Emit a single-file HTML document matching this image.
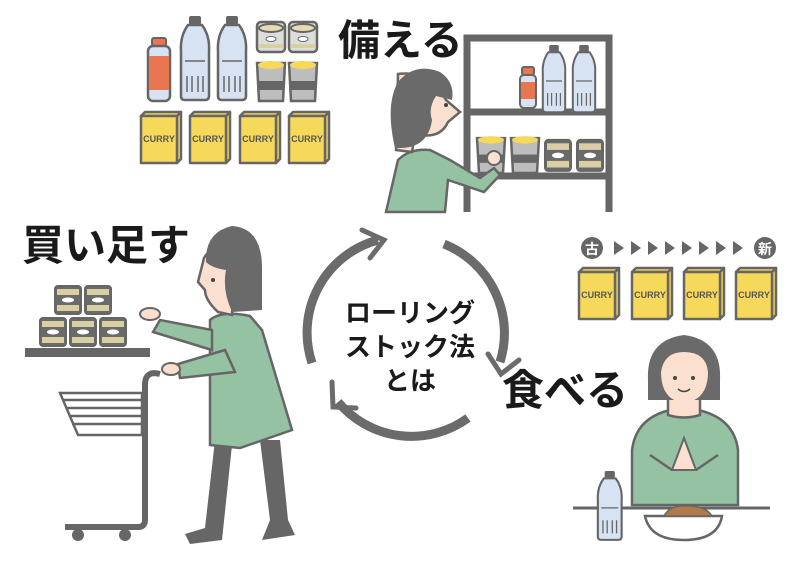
<!DOCTYPE html>
<html><head><meta charset="utf-8"><style>
html,body{margin:0;padding:0;background:#fff;width:798px;height:566px;overflow:hidden}
svg{display:block}
.t{font-family:"Liberation Sans","Noto Sans CJK JP",sans-serif;font-weight:bold;fill:#1a1a1a}
.c{font-family:"Liberation Sans",sans-serif;font-weight:bold;font-size:9px;fill:#555}
</style></head><body>
<svg width="798" height="566" viewBox="0 0 798 566">
<defs>
<g id="box" stroke-linejoin="round"><path d="M36 4 L40 0 L40 47 L36 51Z" fill="#f6d95a" stroke="#666" stroke-width="2.5"/><path d="M0 4 L4 0 L40 0 L36 4Z" fill="#f6d95a" stroke="#666" stroke-width="2.5"/><rect x="0" y="4" width="36" height="47" fill="#f6d95a" stroke="#666" stroke-width="2.5"/><text x="18" y="30" text-anchor="middle" class="c">CURRY</text></g>
<g id="bottle"><rect x="9" y="0" width="12" height="9" rx="2" fill="#666"/><path d="M8 9 Q0 20 1 35 L1 80 Q1 84 5 84 L25 84 Q29 84 29 80 L29 35 Q30 20 22 9Z" fill="#d7e2f2" stroke="#666" stroke-width="2.5"/><path d="M5 45 H25 M7 60 V76 M12 60 V76 M18 60 V76 M23 60 V76" stroke="#666" stroke-width="1.5" fill="none"/></g>
<g id="can"><rect x="0" y="0" width="26" height="28" rx="3" fill="#6a6a6a" stroke="#666" stroke-width="2"/><rect x="2" y="3" width="22" height="6" fill="#d9cfa3"/><rect x="2" y="19" width="22" height="6" fill="#d9cfa3"/><ellipse cx="13" cy="14" rx="6" ry="2.5" fill="#fff"/></g>
<g id="cup"><path d="M0 0 H28 L26 38 H2Z" fill="#bdbdbd" stroke="#666" stroke-width="2.5"/><ellipse cx="14" cy="2" rx="13" ry="4" fill="#f6d95a"/><rect x="1" y="18" width="26" height="9" fill="#666"/></g>
</defs>

<!-- cycle -->
<g fill="none" stroke="#6b6b6b" stroke-width="9">
<path d="M312 363 A96 96 0 0 1 378 240"/>
<path d="M444 244 A96 96 0 0 1 500 362"/>
<path d="M468 418 A96 96 0 0 1 338 402"/>
</g>
<g fill="none" stroke="#6b6b6b" stroke-width="5" stroke-linecap="round">
<path d="M362 230 L384 240 L370 258"/>
<path d="M488 354 L501 374 L519 360"/>
<path d="M332 382 L333 407 L356 408"/>
</g>
<text x="410" y="322" text-anchor="middle" class="t" font-size="26">ローリング</text>
<text x="410" y="356" text-anchor="middle" class="t" font-size="26">ストック法</text>
<text x="410" y="390" text-anchor="middle" class="t" font-size="26">とは</text>

<text x="338" y="55" class="t" font-size="42">備える</text>
<text x="22" y="260" class="t" font-size="42">買い足す</text>
<text x="502" y="405" class="t" font-size="42">食べる</text>

<!-- top-left items -->
<rect x="152" y="38" width="14" height="8" rx="2" fill="#e8764f" stroke="#666" stroke-width="2"/>
<rect x="148" y="46" width="22" height="55" rx="5" fill="#d7e2f2" stroke="#666" stroke-width="2.5"/>
<rect x="149" y="56" width="20" height="34" fill="#e8764f"/>
<use href="#bottle" x="180" y="16"/>
<use href="#bottle" x="217" y="16"/>
<g transform="translate(257,22)"><rect width="28" height="30" rx="4" fill="#ddd" stroke="#666" stroke-width="2.5"/><ellipse cx="14" cy="6" rx="12" ry="4" fill="#e6dcae" stroke="#666" stroke-width="2"/><rect x="2" y="22" width="24" height="4" fill="#d9cfa3"/><ellipse cx="14" cy="17" rx="5" ry="2.5" fill="#fff" stroke="#666"/></g>
<g transform="translate(289,22)"><rect width="28" height="30" rx="4" fill="#ddd" stroke="#666" stroke-width="2.5"/><ellipse cx="14" cy="6" rx="12" ry="4" fill="#e6dcae" stroke="#666" stroke-width="2"/><rect x="2" y="22" width="24" height="4" fill="#d9cfa3"/><ellipse cx="14" cy="17" rx="5" ry="2.5" fill="#fff" stroke="#666"/></g>
<use href="#cup" x="257" y="63"/>
<use href="#cup" x="289" y="63"/>
<use href="#box" x="141" y="112"/>
<use href="#box" x="190" y="112"/>
<use href="#box" x="240" y="112"/>
<use href="#box" x="289" y="112"/>

<!-- shelf top right -->
<g fill="none" stroke="#666" stroke-width="7">
<path d="M467 212 V38 H609 V212"/>
<path d="M467 112 H609 M467 176 H609"/>
</g>
<rect x="522" y="67" width="12" height="8" rx="2" fill="#e8764f" stroke="#666" stroke-width="2"/>
<rect x="520" y="75" width="16" height="33" rx="4" fill="#d7e2f2" stroke="#666" stroke-width="2"/>
<rect x="521" y="82" width="14" height="17" fill="#e8764f"/>
<use href="#bottle" x="542" y="45" transform="translate(542,45) scale(0.8) translate(-542,-45)"/>
<use href="#bottle" x="572" y="45" transform="translate(572,45) scale(0.8) translate(-572,-45)"/>
<use href="#cup" x="477" y="138" transform="translate(477,138) scale(1,0.92) translate(-477,-138)"/>
<use href="#cup" x="511" y="138" transform="translate(511,138) scale(1,0.92) translate(-511,-138)"/>
<use href="#can" x="545" y="140" transform="translate(545,140) scale(1,1.1) translate(-545,-140)"/>
<use href="#can" x="577" y="140" transform="translate(577,140) scale(1,1.1) translate(-577,-140)"/>
<!-- top woman -->
<path d="M386 212 L398 160 Q410 148 430 150 L450 160 L480 178 L494 168 L500 175 L484 192 L448 180 L445 212Z" fill="#94c2a2" stroke="#666" stroke-width="2.5"/>
<path d="M398 74 Q430 70 446 100 L460 112 L448 122 Q440 140 415 134 L412 152 L396 150Z" fill="#fbe0cf" stroke="#666" stroke-width="2.5"/>
<path d="M395 148 Q385 105 398 82 Q415 62 440 72 Q455 82 452 100 L436 96 Q428 108 432 120 Q428 150 395 148Z" fill="#6a6a6a"/>
<circle cx="446" cy="105" r="2" fill="#444"/>
<circle cx="494" cy="158" r="7" fill="#fbe0cf" stroke="#666" stroke-width="2"/>

<!-- left scene -->
<rect x="25" y="348" width="125" height="9" fill="#666"/>
<use href="#can" x="55" y="286"/><use href="#can" x="85" y="286"/>
<use href="#can" x="40" y="318"/><use href="#can" x="70" y="318"/><use href="#can" x="100" y="318"/>
<!-- cart -->
<g fill="none" stroke="#666" stroke-width="6" stroke-linejoin="round">
<path d="M160 374 Q145 370 145 385 V520 Q145 527 138 527 H65"/>
</g>
<g fill="none" stroke="#666" stroke-width="2.5">
<path d="M60 393 H142 V435 H78 Z"/>
<path d="M63 400 H142 M66 408 H142 M69 416 H142 M72 424 H142"/>
</g>
<circle cx="78" cy="535" r="6" fill="#666"/><circle cx="125" cy="535" r="6" fill="#666"/>
<!-- woman left -->
<path d="M215 440 L205 528 L185 534 L190 544 L222 540 L232 445Z" fill="#666"/>
<path d="M260 440 L270 520 L262 540 L295 535 L288 520 L280 440Z" fill="#666"/>
<path d="M210 320 Q222 310 250 316 L262 330 L292 430 L240 448 L210 445 Z" fill="#94c2a2" stroke="#666" stroke-width="2.5"/>
<path d="M212 330 L160 320 L153 332 L212 350 Z" fill="#94c2a2" stroke="#666" stroke-width="2.5"/>
<path d="M225 350 L178 364 L180 378 L235 372 Z" fill="#94c2a2" stroke="#666" stroke-width="2.5"/>
<ellipse cx="150" cy="314" rx="10" ry="6" fill="#fbe0cf" stroke="#666" stroke-width="2"/>
<ellipse cx="171" cy="369" rx="9" ry="6" fill="#fbe0cf" stroke="#666" stroke-width="2"/>
<path d="M204 258 Q215 240 235 248 L232 315 L218 312 Q205 300 205 290 L198 282Z" fill="#fbe0cf" stroke="#666" stroke-width="2.5"/>
<path d="M206 262 Q205 232 232 226 Q262 228 262 268 L262 310 L232 312 Q222 290 226 270 Q212 268 206 262Z" fill="#6a6a6a"/>
<circle cx="213" cy="280" r="2" fill="#444"/>

<!-- right scene -->
<circle cx="592" cy="248" r="11" fill="#666"/><text x="592" y="254" text-anchor="middle" font-size="14" font-weight="bold" fill="#fff" font-family="'Noto Sans CJK JP',sans-serif">古</text>
<circle cx="765" cy="248" r="11" fill="#666"/><text x="765" y="254" text-anchor="middle" font-size="14" font-weight="bold" fill="#fff" font-family="'Noto Sans CJK JP',sans-serif">新</text>
<g fill="#666">
<path d="M614 241 L624 248 L614 255Z"/><path d="M631 241 L641 248 L631 255Z"/><path d="M648 241 L658 248 L648 255Z"/><path d="M665 241 L675 248 L665 255Z"/><path d="M682 241 L692 248 L682 255Z"/><path d="M699 241 L709 248 L699 255Z"/><path d="M716 241 L726 248 L716 255Z"/><path d="M733 241 L743 248 L733 255Z"/>
</g>
<use href="#box" x="579" y="268"/><use href="#box" x="632" y="268"/><use href="#box" x="684" y="268"/><use href="#box" x="736" y="268"/>
<path d="M632 505 L632 450 Q636 418 670 410 L698 410 Q734 418 738 450 L738 505Z" fill="#94c2a2" stroke="#666" stroke-width="2.5"/>
<path d="M668 398 H700 V415 Q684 420 668 415Z" fill="#fbe0cf" stroke="#666" stroke-width="2.5"/>
<path d="M648 380 Q646 340 684 335 Q722 340 720 380 L720 400 L648 400Z" fill="#6a6a6a"/>
<path d="M661 372 Q664 352 684 352 Q706 352 708 372 Q708 400 684 403 Q661 400 661 372Z" fill="#fbe0cf"/>
<circle cx="675" cy="378" r="2" fill="#444"/><circle cx="693" cy="378" r="2" fill="#444"/>
<path d="M678 389 Q684 394 690 389" fill="none" stroke="#444" stroke-width="1.5"/>
<path d="M672 470 L684 438 L696 470 Z" fill="#fbe0cf" stroke="#666" stroke-width="2"/>
<path d="M650 455 L672 470 M718 455 L696 470" stroke="#666" stroke-width="2.5" fill="none"/>
<line x1="573" y1="508" x2="770" y2="508" stroke="#666" stroke-width="3"/>
<use href="#bottle" x="597" y="471" transform="translate(597,471) scale(0.85,0.82) translate(-597,-471)"/>
<path d="M645 516 H722 Q718 540 684 540 Q650 540 645 516Z" fill="#fff" stroke="#666" stroke-width="2.5"/>
<path d="M664 516 Q670 505 685 506 Q705 505 712 516Z" fill="#b07a4a" stroke="#666" stroke-width="1.5"/>
</svg>
</body></html>
